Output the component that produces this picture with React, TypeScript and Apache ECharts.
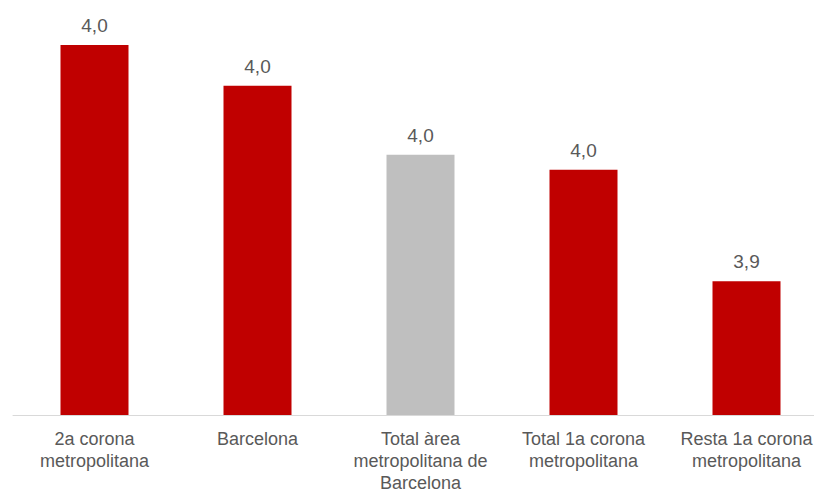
import React, { useEffect, useRef } from "react";
import * as echarts from "echarts";

const categories = [
  "2a corona\nmetropolitana",
  "Barcelona",
  "Total àrea\nmetropolitana de\nBarcelona",
  "Total 1a corona\nmetropolitana",
  "Resta 1a corona\nmetropolitana",
];
const values = [4.046, 4.019, 3.973, 3.963, 3.889];
const highlightCategory = "Total àrea\nmetropolitana de\nBarcelona";

export default function App() {
  const ref = useRef<HTMLDivElement>(null);
  useEffect(() => {
    document.body.style.margin = "0";
    const chart = echarts.init(ref.current!, null, { renderer: "svg" });
    const font = "Liberation Sans";
    chart.setOption({
      animation: false,
      backgroundColor: "#ffffff",
      grid: { left: 13, right: 2, top: 24, bottom: 79, outerBoundsMode: "none", containLabel: false },
      xAxis: {
        type: "category",
        data: categories,
        axisLine: { show: true, lineStyle: { color: "#D9D9D9", width: 1 } },
        axisTick: { show: false },
        axisLabel: {
          interval: 0,
          color: "#595959",
          fontFamily: font,
          fontSize: 18,
          lineHeight: 22,
          margin: 13,
        },
      },
      yAxis: {
        type: "value",
        min: 3.8,
        max: 4.06,
        show: false,
        splitLine: { show: false },
      },
      series: [
        {
          type: "bar",
          barWidth: 68,
          data: values.map((v, i) => ({
            value: v,
            itemStyle: {
              color: categories[i] === highlightCategory ? "#BFBFBF" : "#C00000",
            },
          })),
          label: {
            show: true,
            position: "top",
            distance: 10,
            color: "#595959",
            fontFamily: font,
            fontSize: 19,
            formatter: (p: any) => p.value.toFixed(1).replace(".", ","),
          },
        },
      ],
    });
    return () => chart.dispose();
  }, []);
  return (
    <div style={{ width: 814, height: 494, overflow: "hidden", position: "relative" }}>
      <div ref={ref} style={{ width: 830, height: 494 }} />
    </div>
  );
}
